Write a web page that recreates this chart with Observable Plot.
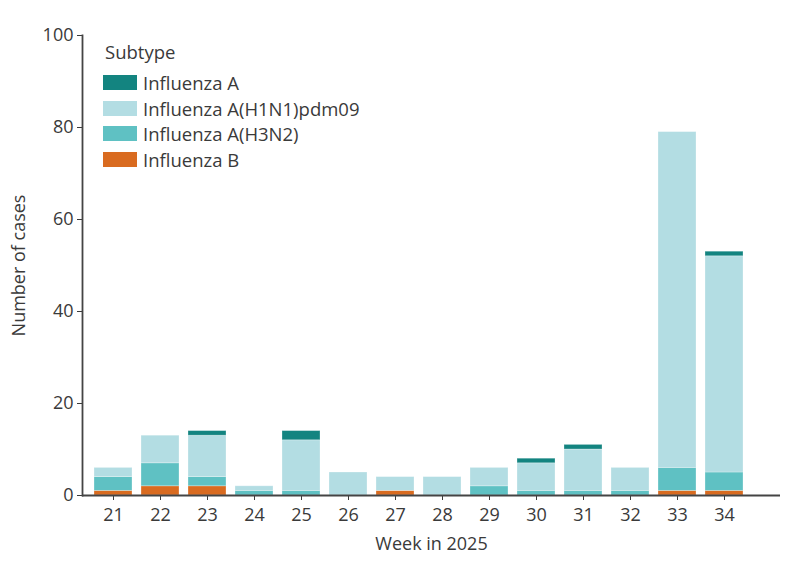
<!DOCTYPE html>
<html>
<head>
<meta charset="utf-8">
<script src="https://cdn.jsdelivr.net/npm/d3@7"></script>
<script src="https://cdn.jsdelivr.net/npm/@observablehq/plot@0.6"></script>
<style>
  html, body { margin: 0; padding: 0; background: #fff; }
  #wrap { position: relative; width: 800px; height: 561px; font-family: "Open Sans", sans-serif; color: #3a3a3a; }
  #legend { position: absolute; left: 103px; top: 39px; font-size: 18.5px; }
  #legend .title { margin-bottom: 6px; margin-left: 2px; }
  #legend .row { display: flex; align-items: center; height: 25.5px; }
  #legend .sw { width: 34px; height: 15px; margin-right: 6px; }
</style>
</head>
<body>
<div id="wrap"><div id="chart"></div><div id="legend"></div></div>
<script>
const weeks = [21, 22, 23, 24, 25, 26, 27, 28, 29, 30, 31, 32, 33, 34];
const subtypes = ["Influenza A", "Influenza A(H1N1)pdm09", "Influenza A(H3N2)", "Influenza B"];
const colors = ["#138480", "#b3dde3", "#5fc1c3", "#d96b20"];
const fluB    = [1, 2, 2, 0, 0, 0, 1, 0, 0, 0, 0, 0, 1, 1];
const fluH3N2 = [3, 5, 2, 1, 1, 0, 0, 0, 2, 1, 1, 1, 5, 4];
const fluH1N1 = [2, 6, 9, 1, 11, 5, 3, 4, 4, 6, 9, 5, 73, 47];
const fluA    = [0, 0, 1, 0, 2, 0, 0, 0, 0, 1, 1, 0, 0, 1];
const yTicks = [0, 20, 40, 60, 80, 100];

const series = [
  ["Influenza B", fluB],
  ["Influenza A(H3N2)", fluH3N2],
  ["Influenza A(H1N1)pdm09", fluH1N1],
  ["Influenza A", fluA]
];
const data = [];
weeks.forEach((w, i) => {
  series.forEach(([name, vals]) => data.push({week: w, subtype: name, cases: vals[i]}));
});

const chart = Plot.plot({
  width: 800,
  height: 561,
  marginLeft: 82,
  marginRight: 20,
  marginTop: 35,
  marginBottom: 66,
  style: {fontFamily: "Open Sans, sans-serif", fontSize: "18px", color: "#3a3a3a", background: "#fff"},
  x: {domain: weeks, paddingInner: 0.2, paddingOuter: 0.438, align: 0.233, label: "Week in 2025", labelArrow: false, labelAnchor: "center", labelOffset: 54, tickSize: 5, tickPadding: 8},
  y: {domain: [0, 100], ticks: yTicks, label: "Number of cases", labelArrow: false, labelAnchor: "center", labelOffset: 70, tickSize: 5, tickPadding: 4},
  color: {domain: subtypes, range: colors},
  marks: [
    Plot.barY(data, Plot.stackY({order: ["Influenza B", "Influenza A(H3N2)", "Influenza A(H1N1)pdm09", "Influenza A"]}, {x: "week", y: "cases", fill: "subtype", stroke: "#ffffff", strokeOpacity: 0.35, strokeWidth: 0.8})),
    Plot.ruleY([0], {stroke: "#444", strokeWidth: 1.8}),
    Plot.frame({anchor: "left", stroke: "#444", strokeWidth: 1.8})
  ]
});
document.getElementById("chart").appendChild(chart);

const legend = document.getElementById("legend");
const t = document.createElement("div");
t.className = "title";
t.textContent = "Subtype";
legend.appendChild(t);
subtypes.forEach((s, i) => {
  const r = document.createElement("div");
  r.className = "row";
  const sw = document.createElement("div");
  sw.className = "sw";
  sw.style.background = colors[i];
  const lab = document.createElement("span");
  lab.textContent = s;
  r.appendChild(sw);
  r.appendChild(lab);
  legend.appendChild(r);
});
</script>
</body>
</html>
